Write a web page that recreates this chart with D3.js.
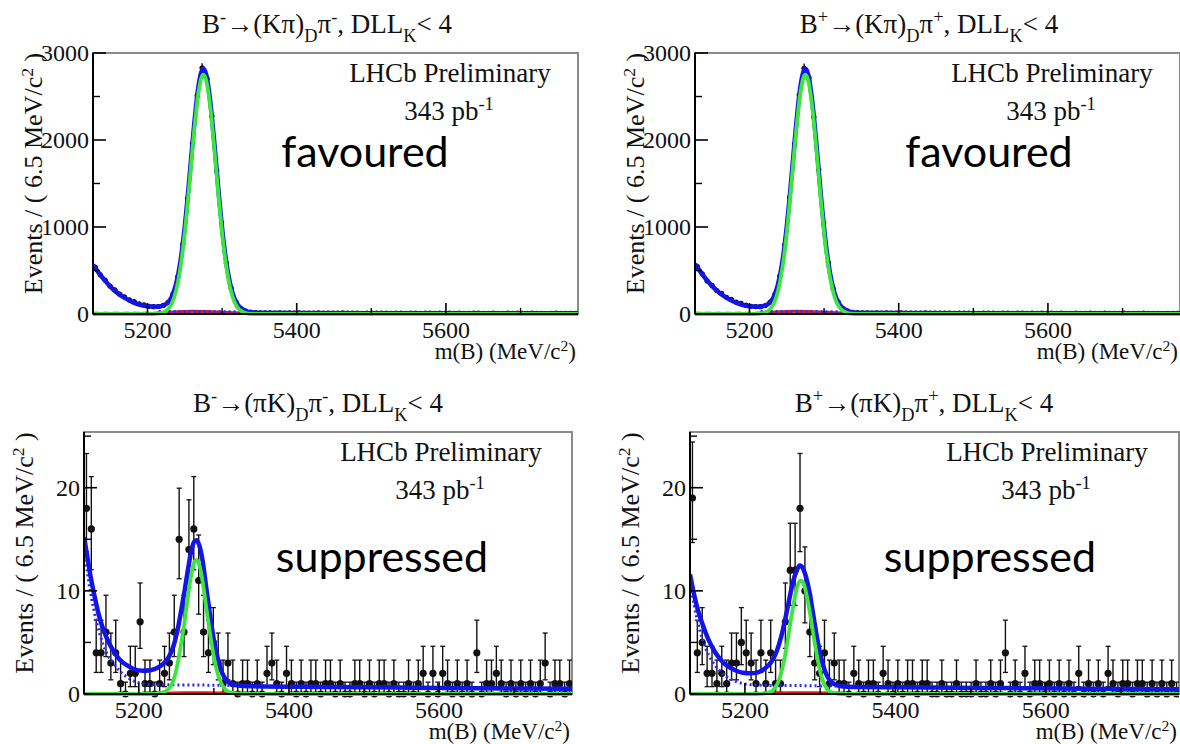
<!DOCTYPE html>
<html>
<head>
<meta charset="utf-8">
<script src="https://cdn.jsdelivr.net/npm/d3@7"></script>
<style>
  html, body { margin: 0; padding: 0; background: #fff; }
  svg { display: block; }
</style>
</head>
<body>
<svg id="chart" width="1180" height="744"></svg>
<script>
// ---- binning and axes -------------------------------------------------
const massRange = [5127, 5777];          // m(B) range, MeV/c^2
const binWidth = 6.5;                    // MeV/c^2 per bin
const xMajorTicks = [5200, 5400, 5600];
const xMinorTicks = [5300, 5500, 5700];
const favYMajor = [0, 1000, 2000, 3000];
const favYMinor = [500, 1500, 2500];
const supYMajor = [0, 10, 20];
const supYMinor = [5, 15, 25];

// ---- titles -----------------------------------------------------------
const titleMinusKpi = [["B"], ["-", "sup"], ["→(Kπ)"], ["D", "sub"], ["π"], ["-", "sup"], [", DLL"], ["K", "sub"], ["< 4"]];
const titlePlusKpi  = [["B"], ["+", "sup"], ["→(Kπ)"], ["D", "sub"], ["π"], ["+", "sup"], [", DLL"], ["K", "sub"], ["< 4"]];
const titleMinusPiK = [["B"], ["-", "sup"], ["→(πK)"], ["D", "sub"], ["π"], ["-", "sup"], [", DLL"], ["K", "sub"], ["< 4"]];
const titlePlusPiK  = [["B"], ["+", "sup"], ["→(πK)"], ["D", "sub"], ["π"], ["+", "sup"], [", DLL"], ["K", "sub"], ["< 4"]];
const yAxisTitle = [["Events / ( 6.5 MeV/c"], ["2", "sup"], [" )"]];
const xAxisTitle = [["m(B) (MeV/c"], ["2", "sup"], [")"]];
const experimentLabel = "LHCb Preliminary";
const lumiLabel = [["343 pb"], ["-1", "sup"]];
const modeLabels = ["favoured", "favoured", "suppressed", "suppressed"];

// ---- event counts per bin (100 bins from 5127) -----------------------
const favMinusCounts = [
  535, 450, 390, 322, 278, 230, 198, 163, 142, 118, 106, 88, 84, 86, 99, 133, 232, 431, 802, 1330,
  1960, 2512, 2830, 2705, 2275, 1650, 1052, 586, 295, 138, 63, 33, 21, 15, 13, 12, 14, 11, 12, 10,
  13, 11, 12, 10, 11, 9, 12, 10, 11, 9, 10, 12, 9, 10, 11, 8, 10, 9, 11, 9,
  10, 8, 9, 10, 8, 9, 11, 8, 9, 10, 7, 9, 8, 10, 8, 9, 7, 8, 9, 10,
  7, 8, 9, 8, 7, 9, 8, 10, 7, 8, 9, 7, 8, 6, 8, 9, 7, 8, 7, 8
];
const favPlusCounts = [
  545, 462, 380, 330, 270, 236, 192, 168, 138, 121, 102, 89, 85, 84, 97, 136, 228, 438, 795, 1340,
  1955, 2520, 2825, 2715, 2265, 1660, 1045, 590, 290, 140, 61, 34, 20, 16, 12, 13, 11, 13, 10, 12,
  11, 10, 12, 11, 9, 11, 10, 12, 9, 10, 11, 9, 10, 8, 11, 10, 9, 10, 8, 10,
  9, 10, 8, 9, 11, 8, 9, 10, 8, 9, 8, 10, 7, 9, 8, 9, 8, 7, 9, 8,
  8, 9, 7, 8, 9, 7, 8, 8, 9, 7, 8, 7, 9, 8, 7, 8, 6, 8, 7, 8
];
const supMinusCounts = [
  18, 16, 4, 4, 6, 3, 4, 1, 0, 2, 2, 7, 1, 1, 0, 1, 2, 3, 6, 15,
  6, 14, 16, 11, 6, 4, 5, 3, 1, 3, 1, 0, 1, 1, 0, 1, 0, 2, 3, 1,
  0, 2, 1, 0, 1, 0, 1, 1, 0, 1, 1, 0, 1, 0, 0, 1, 1, 0, 1, 0,
  1, 1, 0, 1, 0, 0, 1, 0, 1, 2, 0, 2, 0, 2, 1, 0, 1, 0, 1, 0,
  4, 0, 1, 1, 2, 1, 0, 1, 0, 1, 0, 1, 0, 1, 3, 0, 1, 1, 0, 1
];
const supPlusCounts = [
  19, 4, 5, 2, 2, 1, 2, 1, 3, 3, 5, 4, 3, 1, 4, 1, 4, 1, 1, 7,
  12, 12, 18, 10, 6, 3, 2, 4, 1, 3, 1, 1, 0, 2, 1, 0, 1, 1, 0, 2,
  1, 0, 1, 0, 1, 1, 0, 1, 1, 0, 0, 1, 0, 0, 1, 0, 0, 0, 1, 0,
  0, 1, 0, 1, 4, 0, 1, 0, 2, 0, 1, 1, 0, 1, 0, 1, 0, 1, 0, 2,
  0, 1, 0, 1, 0, 2, 1, 0, 1, 1, 0, 1, 1, 0, 1, 0, 1, 0, 1, 0
];

// ---- fitted curves: [mass, events] --------------------------------------
const favMinusTotal = [[5127,565],[5135,470],[5142,395],[5150,318],[5160,240],[5170,182],[5180,137],[5190,106],[5200,88],[5210,84],[5218,90],[5225,114],[5232,188],[5238,332],[5244,595],[5250,1006],[5256,1545],[5262,2124],[5268,2596],[5272,2776],[5275,2818],[5279,2741],[5284,2454],[5290,1926],[5296,1341],[5302,833],[5308,466],[5314,240],[5320,118],[5327,56],[5335,25],[5345,15],[5400,12],[5500,10],[5600,9],[5777,8]];
const favMinusSignal = [[5127,0],[5200,0],[5210,2],[5218,10],[5225,36],[5232,112],[5238,257],[5244,521],[5250,933],[5256,1473],[5262,2053],[5268,2526],[5272,2707],[5275,2750],[5279,2675],[5284,2390],[5290,1864],[5296,1282],[5302,779],[5308,418],[5314,198],[5320,83],[5327,26],[5335,5],[5350,0],[5777,0]];
const favMinusMisid = [[5127,0],[5200,3],[5220,14],[5240,26],[5260,31],[5280,29],[5300,21],[5320,11],[5340,4],[5370,1],[5777,0]];
const favMinusPartial = [[5215,30],[5240,29],[5270,28],[5300,27],[5330,26]];
const favMinusComb = [[5127,12],[5400,10],[5777,8]];

const favPlusTotal = [[5127,575],[5135,478],[5142,398],[5150,320],[5160,242],[5170,183],[5180,138],[5190,106],[5200,88],[5210,84],[5218,90],[5225,114],[5232,188],[5238,332],[5244,595],[5250,1006],[5256,1545],[5262,2124],[5268,2596],[5272,2776],[5275,2818],[5279,2741],[5284,2454],[5290,1926],[5296,1341],[5302,833],[5308,466],[5314,240],[5320,118],[5327,56],[5335,25],[5345,15],[5400,12],[5500,10],[5600,9],[5777,8]];
const favPlusSignal = [[5127,0],[5200,0],[5210,2],[5218,10],[5225,36],[5232,112],[5238,257],[5244,521],[5250,933],[5256,1473],[5262,2053],[5268,2526],[5272,2707],[5275,2750],[5279,2675],[5284,2390],[5290,1864],[5296,1282],[5302,779],[5308,418],[5314,198],[5320,83],[5327,26],[5335,5],[5350,0],[5777,0]];
const favPlusMisid = [[5127,0],[5200,3],[5220,14],[5240,26],[5260,31],[5280,29],[5300,21],[5320,11],[5340,4],[5370,1],[5777,0]];
const favPlusPartial = [[5215,30],[5240,29],[5270,28],[5300,27],[5330,26]];
const favPlusComb = [[5127,12],[5400,10],[5777,8]];

const supMinusTotal = [[5127,15.2],[5131,13.5],[5136,11.3],[5141,9.5],[5147,7.6],[5153,6.2],[5160,5.0],[5167,4.1],[5175,3.3],[5184,2.8],[5194,2.4],[5205,2.25],[5215,2.3],[5225,2.55],[5233,2.95],[5240,3.6],[5246,4.6],[5251,6.0],[5256,7.9],[5261,10.0],[5266,12.3],[5270,13.9],[5274,14.8],[5277,14.9],[5281,14.3],[5285,12.9],[5290,10.2],[5295,7.6],[5300,5.2],[5305,3.5],[5310,2.2],[5316,1.4],[5323,1.0],[5332,0.82],[5350,0.75],[5450,0.68],[5550,0.62],[5650,0.56],[5777,0.5]];
const supMinusSignal = [[5127,0],[5215,0],[5230,0.1],[5240,0.5],[5246,1.3],[5251,2.7],[5256,4.7],[5261,7.0],[5266,9.8],[5270,11.6],[5274,12.8],[5277,13.0],[5281,12.4],[5285,10.9],[5290,8.3],[5295,5.8],[5300,3.6],[5305,2.0],[5310,1.0],[5316,0.4],[5325,0.1],[5340,0],[5777,0]];
const supMinusMisid = [[5127,0.02],[5220,0.05],[5260,0.12],[5290,0.12],[5330,0.05],[5777,0.01]];
const supMinusPartial = [[5127,14.5],[5133,11],[5140,8.2],[5148,5.8],[5157,4.0],[5166,3.0],[5175,2.2],[5185,1.6],[5195,1.2],[5205,1.0],[5220,0.9],[5260,0.88],[5300,0.85],[5330,0.82]];
const supMinusComb = [[5127,0.08],[5777,0.06]];

const supPlusTotal = [[5127,11.6],[5132,9.8],[5138,8.0],[5145,6.5],[5152,5.2],[5160,4.1],[5168,3.3],[5177,2.7],[5187,2.3],[5197,2.05],[5207,2.0],[5217,2.1],[5227,2.5],[5235,3.1],[5242,4.1],[5248,5.5],[5254,7.4],[5259,9.2],[5264,10.9],[5269,12.0],[5273,12.45],[5277,12.2],[5281,11.4],[5286,9.8],[5291,7.6],[5296,5.4],[5301,3.6],[5306,2.3],[5312,1.4],[5319,0.95],[5328,0.75],[5345,0.68],[5450,0.62],[5550,0.57],[5650,0.52],[5777,0.47]];
const supPlusSignal = [[5127,0],[5215,0],[5230,0.1],[5240,0.6],[5246,1.5],[5252,3.2],[5257,5.3],[5262,7.6],[5267,9.6],[5271,10.7],[5274,11.0],[5278,10.7],[5282,9.6],[5287,7.6],[5292,5.3],[5297,3.2],[5302,1.6],[5308,0.6],[5315,0.15],[5330,0],[5777,0]];
const supPlusMisid = [[5127,0.02],[5220,0.05],[5260,0.12],[5290,0.12],[5330,0.05],[5777,0.01]];
const supPlusPartial = [[5127,11.0],[5133,8.4],[5140,6.2],[5148,4.4],[5157,3.1],[5166,2.3],[5175,1.7],[5185,1.3],[5195,1.05],[5205,0.92],[5220,0.85],[5260,0.82],[5300,0.8],[5330,0.78]];
const supPlusComb = [[5127,0.08],[5777,0.06]];

// ---- panel geometry ---------------------------------------------------
const panels = [
  { box: [93, 53, 578, 314],  yMax: 3000, yMajor: favYMajor, yMinor: favYMinor, title: titleMinusKpi, counts: favMinusCounts,
    total: favMinusTotal, signal: favMinusSignal, misid: favMinusMisid, partial: favMinusPartial, comb: favMinusComb,
    mode: modeLabels[0], modeX: 365, modeY: 167, big: true },
  { box: [695, 53, 1180, 314], yMax: 3000, yMajor: favYMajor, yMinor: favYMinor, title: titlePlusKpi, counts: favPlusCounts,
    total: favPlusTotal, signal: favPlusSignal, misid: favPlusMisid, partial: favPlusPartial, comb: favPlusComb,
    mode: modeLabels[1], modeX: 989, modeY: 167, big: true },
  { box: [84, 432, 572, 694], yMax: 25.4, yMajor: supYMajor, yMinor: supYMinor, title: titleMinusPiK, counts: supMinusCounts,
    total: supMinusTotal, signal: supMinusSignal, misid: supMinusMisid, partial: supMinusPartial, comb: supMinusComb,
    mode: modeLabels[2], modeX: 382, modeY: 572, big: false },
  { box: [690, 432, 1179, 694], yMax: 25.4, yMajor: supYMajor, yMinor: supYMinor, title: titlePlusPiK, counts: supPlusCounts,
    total: supPlusTotal, signal: supPlusSignal, misid: supPlusMisid, partial: supPlusPartial, comb: supPlusComb,
    mode: modeLabels[3], modeX: 990, modeY: 572, big: false }
];

const serif = "'Liberation Serif', 'Times New Roman', serif";
const sans = "Lato, 'Open Sans', sans-serif";
const svg = d3.select("#chart");

// write text with ROOT-like sub/superscripts
function richText(sel, segs, size) {
  let shift = 0;
  segs.forEach(([t, mode]) => {
    const target = mode === "sup" ? -0.36 * size : mode === "sub" ? 0.32 * size : 0;
    sel.append("tspan")
      .attr("dy", (target - shift).toFixed(2))
      .attr("font-size", mode ? size * 0.68 : size)
      .text(t);
    shift = target;
  });
  return sel;
}

// 68% Poisson interval limits (Wilson-Hilferty form of the Garwood interval)
function poissonLimits(n) {
  if (n === 0) return [0, 1.148];
  const lo = n * Math.pow(1 - 1 / (9 * n) - 1 / (3 * Math.sqrt(n)), 3);
  const m = n + 1;
  const hi = m * Math.pow(1 - 1 / (9 * m) + 1 / (3 * Math.sqrt(m)), 3);
  return [lo, hi];
}

const defs = svg.append("defs");

panels.forEach((p, i) => {
  const [x0, y0, x1, y1] = p.box;
  const x = d3.scaleLinear().domain(massRange).range([x0, x1]);
  const y = d3.scaleLinear().domain([0, p.yMax]).range([y1, y0]);
  const g = svg.append("g");

  defs.append("clipPath").attr("id", "clip" + i)
    .append("rect").attr("x", x0).attr("y", y0 - 2).attr("width", x1 - x0).attr("height", y1 - y0 + 6);

  // frame (grey top/right)
  g.append("rect").attr("x", x0).attr("y", y0).attr("width", x1 - x0).attr("height", y1 - y0)
    .attr("fill", "none").attr("stroke", "#8a8a8a").attr("stroke-width", 2);

  const plot = g.append("g").attr("clip-path", `url(#clip${i})`);

  // data points with error bars
  const bins = p.counts.map((n, k) => ({ m: massRange[0] + binWidth * (k + 0.5), n }));
  const dat = plot.append("g").attr("stroke", "#111").attr("fill", "#111");
  bins.forEach(b => {
    const [lo, hi] = p.big ? [b.n - Math.sqrt(b.n), b.n + Math.sqrt(b.n)] : poissonLimits(b.n);
    const cx = x(b.m);
    const yl = y(lo), yh = y(hi), yc = y(b.n);
    dat.append("line").attr("x1", cx).attr("x2", cx).attr("y1", yl).attr("y2", yh).attr("stroke-width", 1.4);
    dat.append("line").attr("x1", x(b.m - binWidth / 2)).attr("x2", x(b.m + binWidth / 2)).attr("y1", yc).attr("y2", yc).attr("stroke-width", 1.4);
    if (!p.big) {
      dat.append("line").attr("x1", cx - 2.5).attr("x2", cx + 2.5).attr("y1", yh).attr("y2", yh).attr("stroke-width", 1.3);
      dat.append("line").attr("x1", cx - 2.5).attr("x2", cx + 2.5).attr("y1", yl).attr("y2", yl).attr("stroke-width", 1.3);
    }
    dat.append("circle").attr("cx", cx).attr("cy", yc).attr("r", p.big ? 2.6 : 3.6).attr("stroke", "none");
  });

  const line = d3.line().x(d => x(d[0])).y(d => y(d[1])).curve(d3.curveMonotoneX);

  // fit components
  plot.append("path").datum(p.comb).attr("d", line).attr("fill", "none")
    .attr("stroke", "#1f6b1f").attr("stroke-width", 2.5).attr("stroke-dasharray", "6,4");
  plot.append("path").datum(p.misid).attr("d", line).attr("fill", "none")
    .attr("stroke", "#e01818").attr("stroke-width", 3);
  plot.append("path").datum(p.partial).attr("d", line).attr("fill", "none")
    .attr("stroke", "#2a2aff").attr("stroke-width", 3).attr("stroke-dasharray", "2,3");
  plot.append("path").datum(p.total).attr("d", line).attr("fill", "none")
    .attr("stroke", "#1414e6").attr("stroke-width", 4.5);
  plot.append("path").datum(p.signal).attr("d", line).attr("fill", "none")
    .attr("stroke", "#3ce63c").attr("stroke-width", 3.8);

  // axes (ticks inside, ROOT style)
  const ax = g.append("g").attr("stroke", "#000");
  ax.append("line").attr("x1", x0).attr("x2", x1).attr("y1", y1).attr("y2", y1).attr("stroke-width", 2);
  ax.append("line").attr("x1", x0).attr("x2", x0).attr("y1", y0).attr("y2", y1).attr("stroke-width", 2);
  xMajorTicks.forEach(v => ax.append("line").attr("x1", x(v)).attr("x2", x(v)).attr("y1", y1).attr("y2", y1 - 11).attr("stroke-width", 1.6));
  xMinorTicks.forEach(v => ax.append("line").attr("x1", x(v)).attr("x2", x(v)).attr("y1", y1).attr("y2", y1 - 6).attr("stroke-width", 1.4));
  p.yMajor.forEach(v => ax.append("line").attr("x1", x0).attr("x2", x0 + 13).attr("y1", y(v)).attr("y2", y(v)).attr("stroke-width", 1.6));
  p.yMinor.forEach(v => ax.append("line").attr("x1", x0).attr("x2", x0 + 7).attr("y1", y(v)).attr("y2", y(v)).attr("stroke-width", 1.4));

  // tick labels
  const lab = g.append("g").attr("font-family", serif).attr("font-size", 24).attr("fill", "#111");
  xMajorTicks.forEach(v => lab.append("text").attr("x", x(v)).attr("y", y1 + 24).attr("text-anchor", "middle").text(v));
  p.yMajor.forEach(v => lab.append("text").attr("x", x0 - 4).attr("y", y(v) + 8).attr("text-anchor", "end").text(v));

  // axis titles
  richText(g.append("text").attr("font-family", serif).attr("fill", "#111")
    .attr("text-anchor", "end").attr("x", x1 - 2).attr("y", y1 + 45), xAxisTitle, 23);
  richText(g.append("text").attr("font-family", serif).attr("fill", "#111")
    .attr("text-anchor", "middle")
    .attr("transform", `translate(${x0 - 51},${(y0 + y1) / 2 - 10}) rotate(-90)`), yAxisTitle, 26);

  // panel title
  richText(g.append("text").attr("font-family", serif).attr("fill", "#111")
    .attr("text-anchor", "middle").attr("x", x0 + 234).attr("y", y0 - 20), p.title, 27);

  // labels inside the frame
  g.append("text").attr("font-family", serif).attr("font-size", 27).attr("fill", "#111")
    .attr("text-anchor", "middle").attr("x", x0 + 357).attr("y", y0 + 29).text(experimentLabel);
  richText(g.append("text").attr("font-family", serif).attr("fill", "#111")
    .attr("text-anchor", "middle").attr("x", x0 + 356).attr("y", y0 + 67), lumiLabel, 27);

  g.append("text").attr("font-family", sans).attr("font-size", 43).attr("fill", "#000")
    .attr("text-anchor", "middle").attr("x", p.modeX).attr("y", p.modeY).text(p.mode);
});
</script>
</body>
</html>
